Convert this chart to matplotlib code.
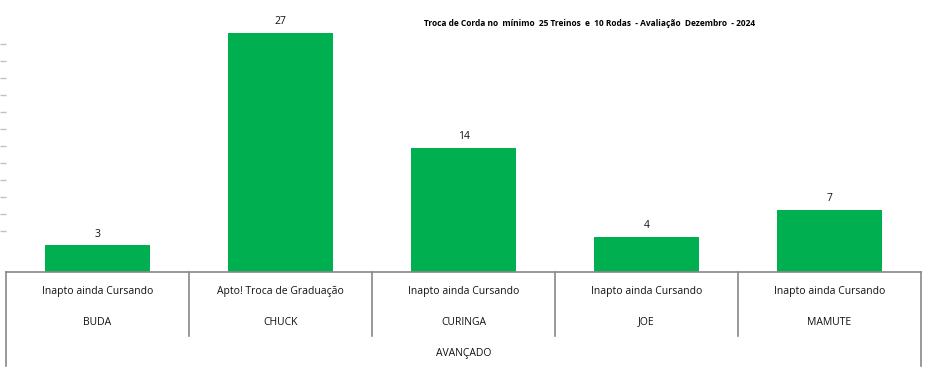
import numpy as np
import matplotlib.pyplot as plt
import matplotlib.transforms as mtransforms

nomes = ['BUDA', 'CHUCK', 'CURINGA', 'JOE', 'MAMUTE']
status = ['Inapto ainda Cursando', 'Apto! Troca de Graduação', 'Inapto ainda Cursando',
          'Inapto ainda Cursando', 'Inapto ainda Cursando']
grupo = 'AVANÇADO'
valores = [3, 27, 14, 4, 7]
titulo = 'Troca de Corda no  mínimo  25 Treinos  e  10 Rodas  - Avaliação  Dezembro  - 2024'

plt.rcParams['font.family'] = ['Open Sans', 'DejaVu Sans']

fig = plt.figure(figsize=(9.3, 3.68), dpi=100)
ax = fig.add_axes([6/930, 96/368, 915/930, 272/368])

x = np.arange(len(nomes))
bars = ax.bar(x, valores, width=0.574, color='#00B050')
for xi, v in zip(x, valores):
    ax.annotate(str(v), (xi, v), xytext=(0, 4), textcoords='offset points',
                ha='center', va='bottom', fontsize=7.5, color='#111111')

ax.set_xlim(-0.5, len(nomes) - 0.5)
ax.set_ylim(0, 30.7)
ax.set_xticks([])
ax.set_yticks(np.arange(4.6, 26.5, 1.92))
ax.set_yticklabels([])
ax.tick_params(axis='y', length=4.3, width=1, color='#b8c2d0', direction='out')
for s in ['top', 'right', 'left']:
    ax.spines[s].set_visible(False)
ax.spines['bottom'].set_color('#888888')
ax.spines['bottom'].set_linewidth(1.2)

trans = mtransforms.blended_transform_factory(ax.transData, ax.transAxes)
bordas = np.arange(len(nomes) + 1) - 0.5
for i, b in enumerate(bordas):
    fundo = -0.346 if i in (0, len(nomes)) else -0.235
    ax.plot([b, b], [0, fundo], transform=trans, color='#888888', lw=1.2, clip_on=False)

for xi, st, nm in zip(x, status, nomes):
    ax.text(xi, -0.07, st, transform=trans, ha='center', va='center', fontsize=7.5, color='#111111')
    ax.text(xi, -0.184, nm, transform=trans, ha='center', va='center', fontsize=7.5, color='#111111')
ax.text(np.mean(x), -0.298, grupo, transform=trans, ha='center', va='center', fontsize=7.5, color='#111111')

fig.text(590/930, 1 - 23/368, titulo, ha='center', va='center', fontsize=6.0,
         fontweight='bold', color='#000000')

plt.savefig('out.png', dpi=100)
